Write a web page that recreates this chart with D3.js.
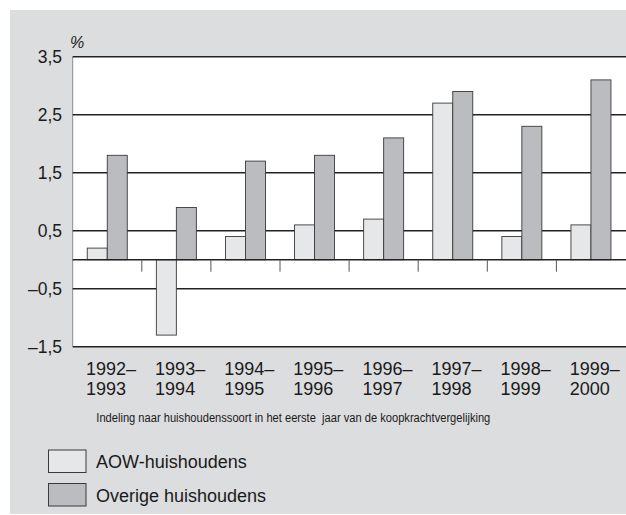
<!DOCTYPE html>
<html>
<head>
<meta charset="utf-8">
<script src="https://cdnjs.cloudflare.com/ajax/libs/d3/7.8.5/d3.min.js"></script>
<style>
html,body{margin:0;padding:0;background:#fff;}
svg{display:block;font-family:"Liberation Sans",Arial,Helvetica,sans-serif;}
</style>
</head>
<body>
<svg id="chart" width="626" height="515"></svg>
<script>
const categories = [["1992–","1993"],["1993–","1994"],["1994–","1995"],["1995–","1996"],["1996–","1997"],["1997–","1998"],["1998–","1999"],["1999–","2000"]];
const seriesNames = ["AOW-huishoudens","Overige huishoudens"];
const aowValues = [0.2,-1.3,0.4,0.6,0.7,2.7,0.4,0.6];
const overigeValues = [1.8,0.9,1.7,1.8,2.1,2.9,2.3,3.1];
const yTicks = [3.5,2.5,1.5,0.5,-0.5,-1.5];
const yTickLabels = ["3,5","2,5","1,5","0,5","–0,5","–1,5"];
const unitLabel = "%";
const xTitle = "Indeling naar huishoudenssoort in het eerste  jaar van de koopkrachtvergelijking";
const colors = ["#e6e7e8","#bbbcbf"];

(function(){
const svg = d3.select("#chart");
const pLeft = 72.7, pRight = 625.5, pTop = 56.7, pBottom = 346.7;

svg.append("rect").attr("x",10).attr("y",10).attr("width",616).attr("height",504).attr("fill","#dcdddf");

const keys = categories.map(c => c.join(""));
const x = d3.scaleBand().domain(keys).range([pLeft,pRight]).paddingInner(0).paddingOuter(0);
const xs = d3.scaleBand().domain(seriesNames).range([x.bandwidth()/2-20, x.bandwidth()/2+20]);
const y = d3.scaleLinear().domain([-1.5,3.5]).range([pBottom,pTop]);

// plot area
svg.append("rect").attr("x",pLeft).attr("y",y(3.5)).attr("width",pRight-pLeft+1).attr("height",y(-1.5)-y(3.5)).attr("fill","#fff");
svg.append("line").attr("x1",pLeft).attr("x2",pLeft).attr("y1",y(3.5)).attr("y2",y(-1.5)).attr("stroke","#8a8b8d").attr("stroke-width",1);

// gridlines
svg.append("g").selectAll("line").data(yTicks).join("line")
  .attr("x1",pLeft).attr("x2",pRight+1)
  .attr("y1",d=>y(d)).attr("y2",d=>y(d))
  .attr("stroke","#222").attr("stroke-width",1.4);

// y labels
svg.append("g").selectAll("text").data(yTicks).join("text")
  .attr("x",62).attr("y",d=>y(d)+6)
  .attr("text-anchor","end").attr("font-size",17.5).attr("fill","#1a1a1a")
  .text((d,i)=>yTickLabels[i]);
svg.append("text").attr("x",70).attr("y",48).attr("font-size",16).attr("fill","#1a1a1a").attr("font-style","italic").text(unitLabel);

// bars
const data = keys.map((k,i)=>({k, vals:[aowValues[i],overigeValues[i]]}));
const g = svg.append("g").selectAll("g").data(data).join("g").attr("transform",d=>`translate(${x(d.k)},0)`);
g.selectAll("rect").data(d=>d.vals.map((v,j)=>({v,s:seriesNames[j],j}))).join("rect")
  .attr("x",d=>xs(d.s)).attr("width",xs.bandwidth())
  .attr("y",d=>y(Math.max(0,d.v))).attr("height",d=>Math.abs(y(d.v)-y(0)))
  .attr("fill",d=>colors[d.j]).attr("stroke","#3a3a3a").attr("stroke-width",0.9);

// zero line
svg.append("line").attr("x1",pLeft).attr("x2",pRight+1).attr("y1",y(0)).attr("y2",y(0)).attr("stroke","#222").attr("stroke-width",1.5);
// tick marks between groups
svg.append("g").selectAll("line").data(keys.slice(1)).join("line")
  .attr("x1",d=>x(d)).attr("x2",d=>x(d)).attr("y1",y(0)).attr("y2",y(0)+12)
  .attr("stroke","#555").attr("stroke-width",1);

// x labels
const xl = svg.append("g").selectAll("text").data(categories).join("text")
  .attr("x",(d,i)=>x(keys[i])+13.3).attr("y",375)
  .attr("font-size",18).attr("fill","#1a1a1a");
xl.selectAll("tspan").data(d=>d).join("tspan")
  .attr("x",function(){return this.parentNode.getAttribute("x");})
  .attr("dy",(d,i)=>i===0?0:19.5).text(d=>d);

svg.append("text").attr("x",96.3).attr("y",421.5).attr("font-size",12.5).attr("fill","#1a1a1a")
  .attr("textLength",394).attr("lengthAdjust","spacingAndGlyphs").style("white-space","pre").text(xTitle);

// legend
const lg = svg.append("g").selectAll("g").data(seriesNames).join("g")
  .attr("transform",(d,i)=>`translate(48.5,${450+i*33.5})`);
lg.append("rect").attr("width",37.5).attr("height",22.5).attr("fill",(d,i)=>colors[i]).attr("stroke","#3a3a3a").attr("stroke-width",1);
lg.append("text").attr("x",47.5).attr("y",18).attr("font-size",18).attr("fill","#1a1a1a").text(d=>d);
})();
</script>
</body>
</html>
